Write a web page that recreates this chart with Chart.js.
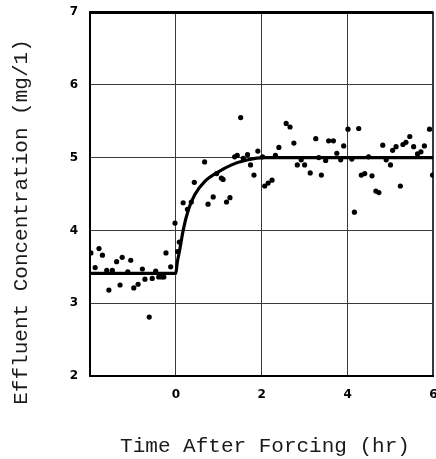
<!DOCTYPE html>
<html>
<head>
<meta charset="utf-8">
<script src="https://cdn.jsdelivr.net/npm/chart.js@4.4.1/dist/chart.umd.min.js"></script>
<style>
html,body{margin:0;padding:0;background:#fff;}
#wrap{width:436px;height:459px;}
</style>
</head>
<body>
<div id="wrap"><canvas id="c" width="436" height="459"></canvas></div>
<script>
// Observed effluent concentrations (time in hr, concentration in mg/l)
const obsTime = [
  -1.98,-1.88,-1.79,-1.71,-1.61,-1.56,-1.48,-1.38,-1.30,-1.25,-1.12,-1.05,-0.98,-0.88,-0.78,-0.72,-0.62,-0.55,-0.47,-0.40,-0.33,-0.28,-0.23,-0.12,-0.02,0.04,0.08,
  0.17,0.27,0.36,0.43,0.67,0.75,0.87,0.95,1.06,1.10,1.18,1.26,1.37,1.43,1.51,1.57,1.67,1.74,1.82,1.91,
  2.02,2.07,2.15,2.24,2.32,2.40,2.57,2.66,2.75,2.83,2.92,3.00,3.13,3.26,3.33,3.39,3.49,3.56,3.67,3.75,3.84,3.91,
  4.01,4.10,4.16,4.26,4.32,4.40,4.49,4.57,4.66,4.73,4.82,4.90,5.00,5.05,5.13,5.23,5.29,5.36,5.45,5.54,5.63,5.71,5.79,5.91,5.98
];
const obsConc = [
  3.69,3.49,3.75,3.66,3.45,3.18,3.45,3.57,3.25,3.63,3.43,3.59,3.21,3.26,3.47,3.33,2.81,3.34,3.44,3.36,3.36,3.36,3.69,3.50,4.10,3.71,3.84,
  4.38,4.29,4.39,4.66,4.94,4.36,4.46,4.78,4.72,4.70,4.39,4.45,5.01,5.03,5.55,4.99,5.04,4.90,4.76,5.09,
  5.01,4.61,4.65,4.69,5.03,5.14,5.47,5.42,5.20,4.90,4.97,4.90,4.79,5.26,5.00,4.76,4.96,5.23,5.23,5.06,4.97,5.16,
  5.39,4.98,4.25,5.40,4.76,4.78,5.01,4.75,4.54,4.52,5.17,4.97,4.90,5.10,5.15,4.61,5.18,5.21,5.29,5.15,5.05,5.08,5.16,5.39,4.76
];
// Fitted response curve
const fitTime = [-2, -1, 0, 0.03, 0.09, 0.17, 0.29, 0.44, 0.67, 0.98, 1.30, 1.68, 2.05, 3, 4, 5, 6];
const fitConc = [3.41, 3.41, 3.41, 3.55, 3.73, 4.00, 4.28, 4.49, 4.67, 4.80, 4.90, 4.97, 5.00, 5.00, 5.00, 5.00, 5.00];
// Axes
const xTickValues = [-2, 0, 2, 4, 6];
const xTickLabels = ['', '0', '2', '4', '6'];
const yTickValues = [2, 3, 4, 5, 6, 7];
const xTitle = 'Time After Forcing (hr)';
const yTitle = 'Effluent Concentration (mg/1)';

const obsPts = obsTime.map((t, i) => ({x: t, y: obsConc[i]}));
const fitPts = fitTime.map((t, i) => ({x: t, y: fitConc[i]}));

const titlePlugin = {
  id: 'axisTitles',
  afterDraw(chart) {
    const ctx = chart.ctx;
    ctx.save();
    ctx.fillStyle = '#1a1a1a';
    ctx.font = '21px "Liberation Mono", "Courier New", monospace';
    ctx.textAlign = 'center';
    ctx.textBaseline = 'alphabetic';
    ctx.fillText(xTitle, 265, 452);
    ctx.translate(27, 222);
    ctx.rotate(-Math.PI / 2);
    ctx.fillText(yTitle, 0, 0);
    ctx.restore();
  }
};

new Chart(document.getElementById('c'), {
  type: 'scatter',
  data: {
    datasets: [
      {
        label: 'Observed',
        data: obsPts,
        showLine: false,
        pointRadius: 2.6,
        pointHoverRadius: 2.6,
        pointBackgroundColor: '#000',
        pointBorderWidth: 0,
        borderColor: '#000'
      },
      {
        label: 'Fit',
        data: fitPts,
        showLine: true,
        pointRadius: 0,
        borderColor: '#000',
        borderWidth: 3.2,
        cubicInterpolationMode: 'monotone',
        fill: false
      }
    ]
  },
  options: {
    responsive: false,
    animation: false,
    devicePixelRatio: 1,
    layout: {padding: {top: 12, right: 2, left: 0, bottom: 0}},
    plugins: {legend: {display: false}, tooltip: {enabled: false}},
    scales: {
      x: {
        type: 'linear',
        min: -2, max: 6,
        afterBuildTicks(scale) { scale.ticks = xTickValues.map(v => ({value: v})); },
        afterFit(scale) { scale.height = 83; scale.paddingLeft = 0; scale.paddingRight = 0; },
        ticks: {
          padding: 12,
          color: '#000',
          font: {family: '"DejaVu Sans", Arial, sans-serif', size: 12, weight: 'bold'},
          callback: (v) => xTickLabels[xTickValues.indexOf(v)],
          maxRotation: 0
        },
        grid: {
          drawTicks: false,
          color: '#3a3a3a',
          lineWidth: (c) => (c.tick && c.tick.value === 6 ? 2 : 1)
        },
        border: {display: true, color: '#000', width: 2}
      },
      y: {
        type: 'linear',
        min: 2, max: 7,
        afterBuildTicks(scale) { scale.ticks = yTickValues.map(v => ({value: v})); },
        afterFit(scale) { scale.width = 90; scale.paddingTop = 0; scale.paddingBottom = 0; },
        ticks: {
          padding: 12,
          color: '#000',
          font: {family: '"DejaVu Sans", Arial, sans-serif', size: 12, weight: 'bold'},
          callback: (v) => String(v)
        },
        grid: {
          drawTicks: false,
          color: (c) => (c.tick && c.tick.value === 7 ? '#000' : '#3a3a3a'),
          lineWidth: (c) => (c.tick && c.tick.value === 7 ? 3 : 1)
        },
        border: {display: true, color: '#000', width: 2}
      }
    }
  },
  plugins: [titlePlugin]
});
</script>
</body>
</html>
